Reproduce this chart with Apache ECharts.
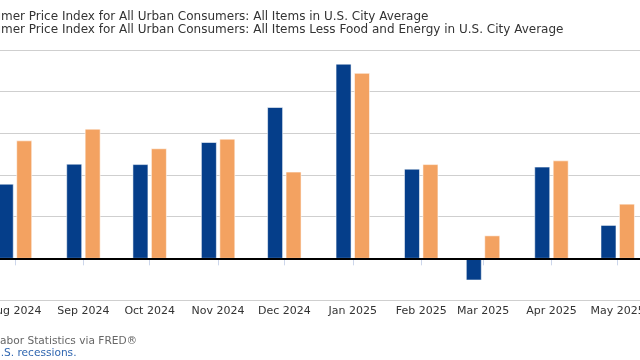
<!DOCTYPE html>
<html><head><meta charset="utf-8">
<script src="https://cdn.jsdelivr.net/npm/echarts@6/dist/echarts.min.js"></script>
<style>html,body{margin:0;padding:0;background:#fff;overflow:hidden}#c{width:640px;height:360px}</style>
</head><body><div id="c"></div>
<script>
// ---- data ----
const months = ['2024-08','2024-09','2024-10','2024-11','2024-12','2025-01','2025-02','2025-03','2025-04','2025-05'];
const cpiAllItems = [0.178, 0.226, 0.225, 0.278, 0.362, 0.466, 0.214, -0.052, 0.219, 0.079];
const cpiCore     = [0.282, 0.310, 0.263, 0.286, 0.207, 0.444, 0.225, 0.054, 0.234, 0.130];
const monthNames = ['Jan','Feb','Mar','Apr','May','Jun','Jul','Aug','Sep','Oct','Nov','Dec'];
const seriesNames = [
  'Consumer Price Index for All Urban Consumers: All Items in U.S. City Average',
  'Consumer Price Index for All Urban Consumers: All Items Less Food and Energy in U.S. City Average'
];
const sourceLines = [
  'Source: U.S. Bureau of Labor Statistics via FRED\u00AE',
  'Shaded areas indicate U.S. recessions.'
];

// ---- helpers ----
const DAY = 86400000;
function toTime(ym){ const p = ym.split('-'); return new Date(+p[0], +p[1]-1, 1).getTime(); }
const times = months.map(toTime);

const BAR_W = 15, BAR_GAP = 3.45;
const PAIR_W = 2*BAR_W + BAR_GAP;
// visible window of the (cropped) time axis
const viewMin = toTime('2024-08') - 6.79*DAY;
const viewMax = toTime('2025-05') + 10.1*DAY;

const FONT_FAMILY = '"DejaVu Sans", Verdana, sans-serif';
const cv = document.createElement('canvas').getContext('2d');
function measure(txt, size){ cv.font = size + 'px ' + FONT_FAMILY; return cv.measureText(txt).width; }

const legendSize = 12, srcSize = 10.6;
const legendX = 1 - measure('Consu', legendSize);
const srcX = 0 - measure('Source: U.S. Bureau of L', srcSize);

// grouped column drawn from the axis scales (api.coord)
function columnRenderer(slot, color){
  return function(params, api){
    const t = api.value(0), v = api.value(1);
    const base = api.coord([t, 0]);
    const top = api.coord([t, v]);
    const x = base[0] - PAIR_W/2 + slot*(BAR_W + BAR_GAP);
    return {
      type: 'rect',
      shape: {x: x, y: Math.min(base[1], top[1]), width: BAR_W, height: Math.abs(base[1] - top[1])},
      style: {fill: color, stroke: 'rgba(255,255,255,0.55)', lineWidth: 1}
    };
  };
}

const chart = echarts.init(document.getElementById('c'), null, {renderer:'canvas'});
chart.setOption({
  animation: false,
  backgroundColor: '#fff',
  grid: {left: 0, right: 0, top: 50, bottom: 60, containLabel: false, outerBoundsMode: 'none'},
  xAxis: {
    type: 'time', min: viewMin, max: viewMax,
    splitNumber: 10, minInterval: 28*DAY, maxInterval: 31*DAY,
    axisLine: {show: true, lineStyle: {color: '#ccd6eb', width: 1}},
    axisTick: {show: true, length: 7, lineStyle: {color: '#ccd6eb', width: 1}},
    splitLine: {show: false},
    axisLabel: {
      margin: 6, color: '#333', fontSize: 11, fontFamily: FONT_FAMILY,
      formatter: function(v){ const d = new Date(v); return monthNames[d.getMonth()] + ' ' + d.getFullYear(); },
      hideOverlap: false
    },
    z: 3
  },
  yAxis: {
    type: 'value', min: -0.1, max: 0.5, interval: 0.1,
    axisLabel: {show: false}, axisLine: {show: false}, axisTick: {show: false},
    splitLine: {show: true, lineStyle: {color: '#cfcfcf', width: 1}}
  },
  series: [
    {
      name: seriesNames[0], type: 'custom',
      renderItem: columnRenderer(0, '#053e8a'),
      encode: {x: 0, y: 1},
      data: times.map((t,i)=>[t, cpiAllItems[i]]),
      markLine: {
        silent: true, symbol: 'none', label: {show: false},
        lineStyle: {color: '#000', width: 2, type: 'solid'},
        data: [{yAxis: 0}]
      },
      z: 2
    },
    {
      name: seriesNames[1], type: 'custom',
      renderItem: columnRenderer(1, '#f3a261'),
      encode: {x: 0, y: 1},
      data: times.map((t,i)=>[t, cpiCore[i]]),
      z: 2
    }
  ],
  graphic: [
    {type:'text', x: legendX, y: 17, style:{text: seriesNames[0], font: legendSize+'px '+FONT_FAMILY, fill:'#333', textVerticalAlign:'middle'}},
    {type:'text', x: legendX, y: 30, style:{text: seriesNames[1], font: legendSize+'px '+FONT_FAMILY, fill:'#333', textVerticalAlign:'middle'}},
    {type:'text', x: srcX, y: 341, style:{text: sourceLines[0], font: srcSize+'px '+FONT_FAMILY, fill:'#666', textVerticalAlign:'middle'}},
    {type:'text', x: srcX, y: 353, style:{text: sourceLines[1], font: srcSize+'px '+FONT_FAMILY, fill:'#2f66b0', textVerticalAlign:'middle'}}
  ]
});
</script>
</body></html>
